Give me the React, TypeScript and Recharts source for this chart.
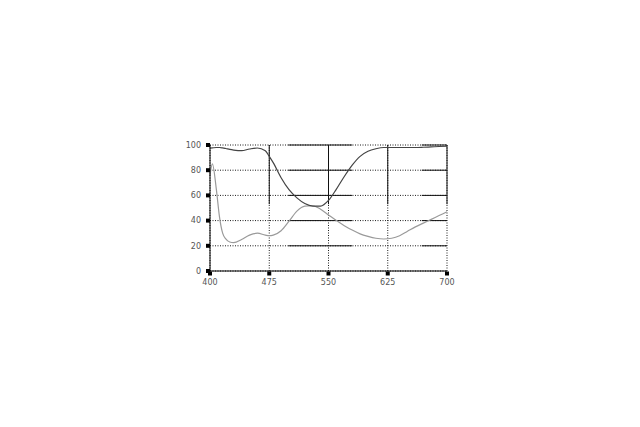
import React from 'react';
import { LineChart, Line, XAxis, YAxis, CartesianGrid, ReferenceLine } from 'recharts';

// wavelength (nm) and the two transmission curves (%)
const wavelengths = [
  400, 403, 408, 412, 416, 420, 425, 430, 440, 450, 460, 470, 475, 480, 490,
  500, 510, 520, 530, 540, 550, 560, 570, 580, 590, 600, 610, 620, 630, 640,
  650, 660, 670, 680, 690, 700,
];
const darkCurve = [
  97.5, 97.7, 98, 98, 97.7, 97.2, 96.5, 96, 95.5, 96.8, 97.6, 95.5, 91, 86, 74,
  64.5, 58, 53.5, 51.5, 51.5, 56, 65, 75, 84, 91, 95, 97, 98, 98, 98,
  98, 98, 98.2, 98.5, 98.8, 99,
];
const lightCurve = [
  76, 85, 65, 43, 30, 25.5, 23, 22.5, 25, 28.5, 30, 28.5, 28, 28.5, 32,
  39.5, 47.5, 51.5, 51.8, 49, 44.5, 40, 36, 32.5, 29.5, 27.5, 26, 25.4, 26, 28,
  31.5, 35, 38, 41, 44, 47,
];
const xTicks = [400, 475, 550, 625, 700];
const yTicks = [0, 20, 40, 60, 80, 100];

const chartData = wavelengths.map((w, i) => ({ w, dark: darkCurve[i], light: lightCurve[i] }));

// solid pieces of the otherwise dotted grid
const hSolid: [number, number][] = [[499, 580], [668, 700]];
const vSolidFrom = 53;

const YTick = (props: any) => {
  const { x, y, payload } = props;
  return (
    <g>
      <rect x={x - 4} y={y - 2} width={4} height={4} fill="#000" />
      <text x={x - 9} y={y} dy="0.36em" textAnchor="end" fontSize={8} fill="#555"
        fontFamily="DejaVu Sans, sans-serif">
        {payload.value}
      </text>
    </g>
  );
};

const XTick = (props: any) => {
  const { x, y, payload } = props;
  return (
    <g>
      <rect x={x - 2} y={y + 0.5} width={4} height={4} fill="#000" />
      <text x={x} y={y + 14} textAnchor="middle" fontSize={8} fill="#555"
        fontFamily="DejaVu Sans, sans-serif">
        {payload.value}
      </text>
    </g>
  );
};

export default function App() {
  return (
    <div style={{ position: 'absolute', left: 0, top: 0, width: 640, height: 427, background: '#fff' }}>
      <LineChart
        width={640}
        height={427}
        data={chartData}
        margin={{ top: 145, right: 193, bottom: 136, left: 180 }}
      >
        <CartesianGrid stroke="#000" strokeDasharray="1 1.5" strokeWidth={0.9} />
        {yTicks.filter((t) => t > 0).map((t) =>
          hSolid.map(([a, b]) => (
            <ReferenceLine key={`h${t}-${a}`} segment={[{ x: a, y: t }, { x: b, y: t }]}
              stroke="#111" strokeWidth={1} />
          ))
        )}
        {xTicks.filter((t) => t > 400).map((t) => (
          <ReferenceLine key={`v${t}`} segment={[{ x: t, y: vSolidFrom }, { x: t, y: 100 }]}
            stroke="#111" strokeWidth={1} />
        ))}
        <XAxis
          dataKey="w"
          type="number"
          domain={[400, 700]}
          ticks={xTicks}
          interval={0}
          height={20}
          tickSize={0}
          tickMargin={0}
          tickLine={false}
          axisLine={{ stroke: '#000', strokeWidth: 1 }}
          tick={<XTick />}
        />
        <YAxis
          type="number"
          domain={[0, 100]}
          ticks={yTicks}
          interval={0}
          width={30}
          tickSize={0}
          tickMargin={0}
          tickLine={false}
          axisLine={{ stroke: '#000', strokeWidth: 1 }}
          tick={<YTick />}
        />
        <Line type="monotone" dataKey="light" stroke="#9a9a9a" strokeWidth={1.2} dot={false}
          isAnimationActive={false} />
        <Line type="monotone" dataKey="dark" stroke="#444" strokeWidth={1.2} dot={false}
          isAnimationActive={false} />
      </LineChart>
    </div>
  );
}
